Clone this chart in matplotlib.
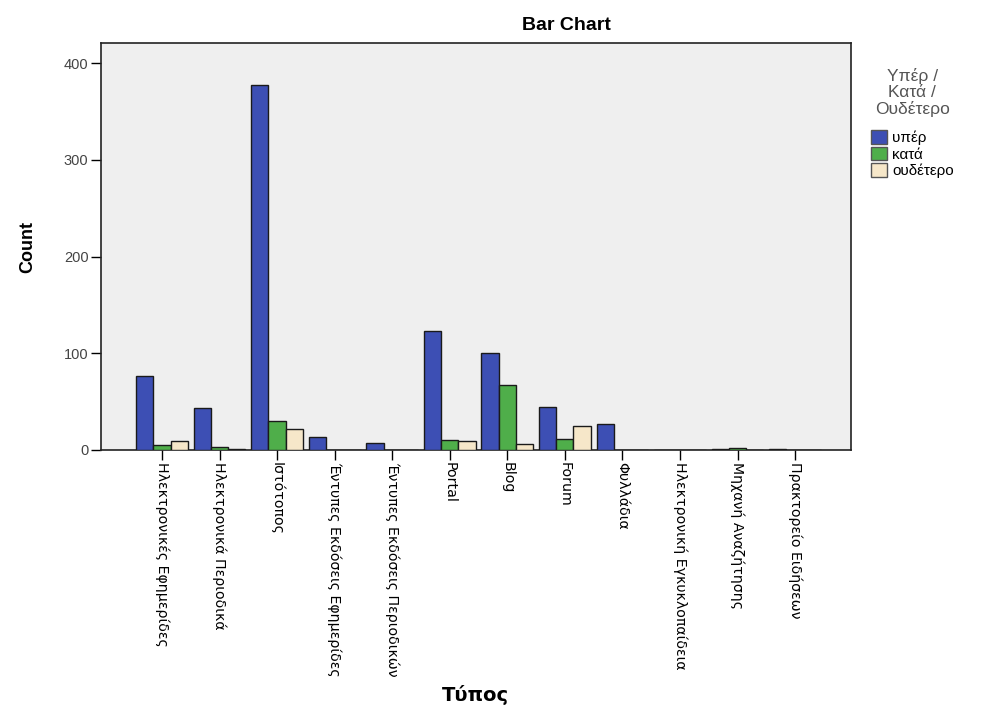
import matplotlib.pyplot as plt
import numpy as np

plt.rcParams["font.family"] = ["Liberation Sans", "DejaVu Sans"]

# counts per source type, split by stance
types = [
    "Ηλεκτρονικές Εφημερίδες",
    "Ηλεκτρονικά Περιοδικά",
    "Ιστότοπος",
    "Έντυπες Εκδόσεις Εφημερίδες",
    "Έντυπες Εκδόσεις Περιοδικών",
    "Portal",
    "Blog",
    "Forum",
    "Φυλλάδια",
    "Ηλεκτρονική Εγκυκλοπαίδεια",
    "Μηχανή Αναζήτησης",
    "Πρακτορείο Ειδήσεων",
]
yper = [77, 43, 378, 13, 7, 123, 100, 44, 27, 0, 1, 1]
kata = [5, 3, 30, 0, 0, 10, 67, 11, 0, 0, 2, 0]
oudetero = [9, 1, 22, 0, 0, 9, 6, 25, 0, 0, 0, 0]
series_names = ["υπέρ", "κατά", "ουδέτερο"]
colors = ["#3d4fb4", "#4fae4a", "#f6e7c9"]

fig = plt.figure(figsize=(9.86, 7.17), dpi=100)
fig.patch.set_facecolor("white")
ax = fig.add_axes([0.1024, 0.3724, 0.7606, 0.5676])
ax.set_facecolor("#efefef")

x = np.arange(len(types))
w = 0.3
for i, (vals, name, c) in enumerate(zip([yper, kata, oudetero], series_names, colors)):
    ax.bar(x + (i - 1) * w, vals, width=w, color=c, edgecolor="#1a1a1a",
           linewidth=1.0, label=name, zorder=3)

ax.set_xlim(-1.06, 11.97)
ax.set_ylim(0, 421)
ax.set_yticks([0, 100, 200, 300, 400])
ax.tick_params(axis="y", direction="out", length=7, width=1, labelsize=10.5,
               labelcolor="#444444", pad=2)
ax.tick_params(axis="x", direction="out", length=7, width=1, pad=2)
ax.set_xticks(x)
ax.set_xticklabels(types, rotation=270, ha="center", va="top",
                   family=["Liberation Sans Narrow", "DejaVu Sans Condensed"],
                   fontsize=10.2)
for s in ax.spines.values():
    s.set_color("#222222")
    s.set_linewidth(1.2)

ax.set_ylabel("Count", fontsize=13, fontweight="bold", labelpad=20)
fig.text(0.482, 0.017, "Τύπος", ha="center", va="bottom", fontsize=14,
         fontweight="bold", family=["DejaVu Sans"])
fig.text(0.574, 0.965, "Bar Chart", ha="center", va="center", fontsize=14,
         fontweight="bold")

leg = ax.legend(title="Υπέρ /\nΚατά /\nΟυδέτερο", loc="upper left",
                bbox_to_anchor=(1.012, 0.965), frameon=False, fontsize=11,
                handlelength=1.1, handleheight=1.0, handletextpad=0.3,
                labelspacing=0.1, borderaxespad=0.3)
leg.get_title().set_fontsize(12.5)
leg.get_title().set_color("#555555")
leg.get_title().set_multialignment("center")
leg.get_title().set_linespacing(1.1)
leg._legend_box.sep = 9
for h in leg.legend_handles:
    h.set_edgecolor("#555555")

fig.savefig("out.png", dpi=100)
